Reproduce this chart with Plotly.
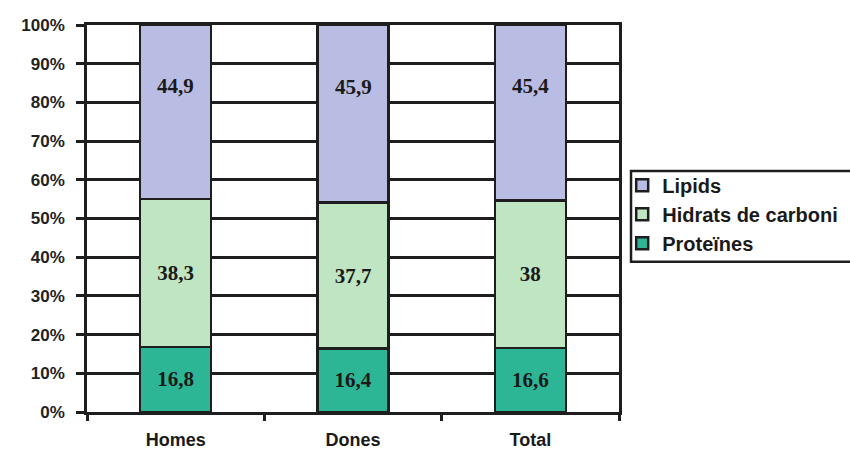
import plotly.graph_objects as go

categories = ["Homes", "Dones", "Total"]
proteines = [16.8, 16.4, 16.6]
hidrats = [38.3, 37.7, 38.0]
lipids = [44.9, 45.9, 45.4]
y_ticks = [0, 10, 20, 30, 40, 50, 60, 70, 80, 90, 100]

INK = "#1e1e1e"


def fmt(v):
    s = f"{v:.1f}".rstrip("0").rstrip(".")
    return s.replace(".", ",")


label_font = dict(family="Liberation Serif", size=21, color="#1a1a1a", weight="bold")

series = [
    ("Proteïnes", proteines, "#2db696", True),
    ("Hidrats de carboni", hidrats, "#bfe5c2", True),
    ("Lipids", lipids, "#babde3", False),
]

fig = go.Figure()
for name, vals, color, inside_label in series:
    fig.add_trace(go.Bar(
        x=categories,
        y=vals,
        name=name,
        legendgroup=name,
        width=0.4,
        marker=dict(color=color, line=dict(color=INK, width=2.5)),
        text=[fmt(v) for v in vals] if inside_label else None,
        textposition="inside" if inside_label else "none",
        insidetextanchor="middle",
        textangle=0,
        textfont=label_font,
    ))

# value labels of the top segment sit in its upper part
for cat, p, h, l in zip(categories, proteines, hidrats, lipids):
    fig.add_annotation(
        x=cat, y=p + h + l * 0.65, text=fmt(l), showarrow=False,
        font=label_font, xref="x", yref="y",
    )

# legend frame
fig.add_shape(
    type="rect", xref="paper", yref="paper",
    x0=1.0226, x1=1.45, y0=0.388, y1=0.623,
    line=dict(color=INK, width=2.5), fillcolor="rgba(0,0,0,0)", layer="above",
)

fig.update_layout(
    barmode="stack",
    width=850,
    height=452,
    margin=dict(l=87, r=231, t=25, b=40, autoexpand=False),
    paper_bgcolor="white",
    plot_bgcolor="white",
    showlegend=True,
    legend=dict(
        traceorder="reversed",
        x=1.006, y=0.636, xanchor="left", yanchor="top",
        bgcolor="rgba(0,0,0,0)",
        borderwidth=0,
        font=dict(family="Liberation Sans", size=20, color="#1a1a1a", weight="bold"),
        itemwidth=30,
        tracegroupgap=5,
    ),
    uniformtext=dict(mode="show", minsize=10),
)

fig.update_yaxes(
    range=[0, 100],
    tickvals=y_ticks,
    ticktext=[f"{v}%" for v in y_ticks],
    showgrid=True,
    gridcolor=INK,
    gridwidth=2.5,
    showline=True,
    linecolor=INK,
    linewidth=2.5,
    mirror=True,
    ticks="outside",
    ticklen=8,
    tickwidth=2.5,
    tickcolor=INK,
    ticklabelstandoff=8,
    tickfont=dict(family="Liberation Sans", size=17, color="#222222", weight="bold"),
    zeroline=False,
    automargin=False,
)

fig.update_xaxes(
    showline=True,
    linecolor=INK,
    linewidth=2.5,
    mirror=True,
    ticks="outside",
    tickson="boundaries",
    ticklen=6,
    tickwidth=2.5,
    tickcolor=INK,
    ticklabelstandoff=10,
    tickfont=dict(family="Liberation Sans", size=18, color="#1a1a1a", weight="bold"),
    showgrid=False,
    automargin=False,
)

fig.write_html("out.html")
